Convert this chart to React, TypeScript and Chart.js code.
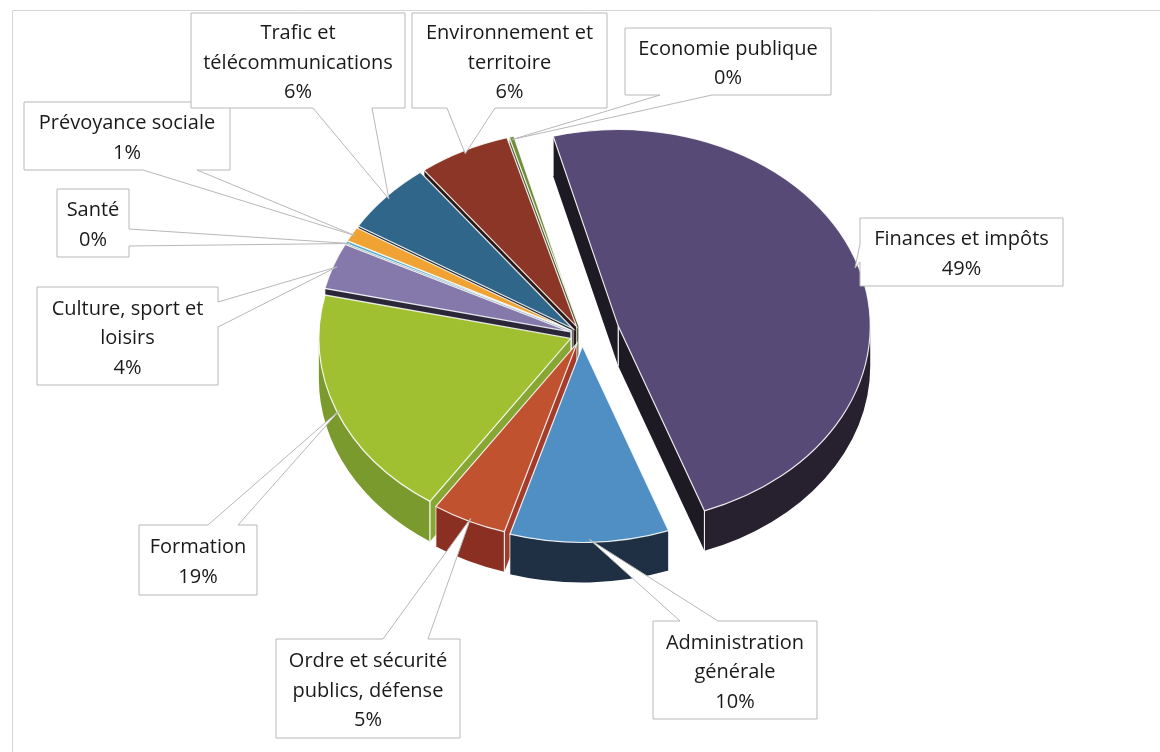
import React, { useEffect, useRef } from "react";
import { Chart, registerables } from "chart.js";

Chart.register(...registerables);

// ---------- data ----------
const categories: string[][] = [
  ["Administration", "générale"],
  ["Ordre et sécurité", "publics, défense"],
  ["Formation"],
  ["Culture, sport et", "loisirs"],
  ["Santé"],
  ["Prévoyance sociale"],
  ["Trafic et", "télécommunications"],
  ["Environnement et", "territoire"],
  ["Economie publique"],
  ["Finances et impôts"],
];
const values: number[] = [10.2, 4.8, 19.1, 3.8, 0.2, 1.2, 5.9, 5.9, 0.3, 48.6];

// ---------- styles ----------
const topColors = ["#4f8fc4", "#c1522f", "#a0c032", "#8579ab", "#4aa8c4", "#f0a233", "#2f6689", "#8b3627", "#6f8f3c", "#584a76"];
const sideColors = ["#1f2f44", "#8a2f22", "#7b9a2d", "#2b2739", "#2a5566", "#8a5a1a", "#1b2733", "#2b1a18", "#3a4a20", "#27212f"];
const radialColors = ["#2a3f5a", "#a33c2a", "#88a634", "#2b2739", "#2a5566", "#a06a20", "#1b2733", "#2b1a18", "#4a5a2a", "#1e1a24"];
const explode = [14, 12, 12, 12, 12, 12, 12, 12, 12, 38];

const TILT = 0.78;
const DEPTH = 40;
const LINE_H = 29.5;
const FONT = "20px 'Open Sans'";

type Box = { x: number; y: number; w: number; h: number; edge: "top" | "bottom" | "left" | "right"; b0: number; b1: number };
const boxes: Box[] = [
  { x: 653, y: 621, w: 164, h: 98, edge: "top", b0: 680, b1: 718 },
  { x: 276, y: 639, w: 184, h: 99, edge: "top", b0: 383, b1: 428 },
  { x: 139, y: 525, w: 118, h: 70, edge: "top", b0: 208, b1: 238 },
  { x: 37, y: 287, w: 181, h: 98, edge: "right", b0: 302, b1: 327 },
  { x: 57, y: 189, w: 72, h: 68, edge: "right", b0: 229, b1: 246 },
  { x: 24, y: 102, w: 206, h: 68, edge: "bottom", b0: 143, b1: 197 },
  { x: 191, y: 13, w: 214, h: 95, edge: "bottom", b0: 313, b1: 372 },
  { x: 412, y: 13, w: 195, h: 95, edge: "bottom", b0: 447, b1: 495 },
  { x: 625, y: 28, w: 206, h: 67, edge: "bottom", b0: 660, b1: 712 },
  { x: 860, y: 218, w: 203, h: 68, edge: "left", b0: 244, b1: 262 },
];

function geom(chart: any) {
  const meta = chart.getDatasetMeta(0);
  return meta.data.map((el: any, i: number) => {
    const a0 = el.startAngle, a1 = el.endAngle;
    const mid = (a0 + a1) / 2;
    const off = el.options.offset || 0;
    const ax = el.x + Math.cos(mid) * off;
    const ay = el.y + Math.sin(mid) * off * TILT;
    return { i, a0, a1, mid, ax, ay, r: el.outerRadius, color: el.options.backgroundColor };
  });
}

const pie3d = {
  id: "pie3d",
  beforeDraw(chart: any) {
    const ctx = chart.ctx;
    ctx.save();
    ctx.fillStyle = "#ffffff";
    ctx.fillRect(0, 0, chart.width, chart.height);
    ctx.strokeStyle = "#d6d6d6";
    ctx.lineWidth = 1;
    ctx.beginPath();
    ctx.moveTo(12.5, chart.height);
    ctx.lineTo(12.5, 10.5);
    ctx.lineTo(chart.width, 10.5);
    ctx.stroke();
    ctx.restore();
  },
  beforeDatasetsDraw(chart: any) {
    const ctx = chart.ctx;
    const items = geom(chart);
    const order = [...items].sort(
      (p: any, q: any) => p.ay + Math.sin(p.mid) * p.r * TILT * 0.5 - (q.ay + Math.sin(q.mid) * q.r * TILT * 0.5)
    );
    ctx.save();
    for (const s of order) {
      const { i, a0, a1, ax, ay, r } = s;
      const ry = r * TILT;
      const px = (a: number) => ax + Math.cos(a) * r;
      const py = (a: number) => ay + Math.sin(a) * ry;
      const verticals: number[][] = [];
      const radial = (a: number) => {
        ctx.beginPath();
        ctx.moveTo(ax, ay);
        ctx.lineTo(px(a), py(a));
        ctx.lineTo(px(a), py(a) + DEPTH);
        ctx.lineTo(ax, ay + DEPTH);
        ctx.closePath();
        ctx.fillStyle = radialColors[i];
        ctx.fill();
        verticals.push([px(a), py(a)]);
        verticals.push([ax, ay]);
      };
      if (Math.cos(a0) < 0) radial(a0);
      if (Math.cos(a1) > 0) radial(a1);
      for (let n = -1; n <= 2; n++) {
        const lo = Math.max(a0, 2 * Math.PI * n);
        const hi = Math.min(a1, 2 * Math.PI * n + Math.PI);
        if (hi > lo) {
          ctx.beginPath();
          ctx.ellipse(ax, ay, r, ry, 0, lo, hi, false);
          ctx.ellipse(ax, ay + DEPTH, r, ry, 0, hi, lo, true);
          ctx.closePath();
          ctx.fillStyle = sideColors[i];
          ctx.fill();
          if (lo === a0) verticals.push([px(a0), py(a0)]);
          if (hi === a1) verticals.push([px(a1), py(a1)]);
        }
      }
      ctx.strokeStyle = "rgba(255,255,255,0.75)";
      ctx.lineWidth = 1;
      for (const v of verticals) {
        ctx.beginPath();
        ctx.moveTo(v[0], v[1]);
        ctx.lineTo(v[0], v[1] + DEPTH);
        ctx.stroke();
      }
      ctx.beginPath();
      ctx.moveTo(ax, ay);
      ctx.ellipse(ax, ay, r, ry, 0, a0, a1, false);
      ctx.closePath();
      ctx.fillStyle = s.color;
      ctx.fill();
      ctx.strokeStyle = "rgba(255,255,255,0.85)";
      ctx.lineWidth = 1.2;
      ctx.stroke();
    }
    ctx.restore();
    return false;
  },
  afterDraw(chart: any) {
    const ctx = chart.ctx;
    const items = geom(chart);
    const data: number[] = chart.data.datasets[0].data;
    const total = data.reduce((a, b) => a + b, 0);
    ctx.save();
    items.forEach((s: any) => {
      const b = boxes[s.i];
      const tx = s.ax + Math.cos(s.mid) * s.r * 0.985;
      const ty = s.ay + Math.sin(s.mid) * s.r * TILT * 0.985;
      const { x, y, w, h } = b;
      ctx.beginPath();
      ctx.moveTo(x, y);
      if (b.edge === "top") { ctx.lineTo(b.b0, y); ctx.lineTo(tx, ty); ctx.lineTo(b.b1, y); }
      ctx.lineTo(x + w, y);
      if (b.edge === "right") { ctx.lineTo(x + w, b.b0); ctx.lineTo(tx, ty); ctx.lineTo(x + w, b.b1); }
      ctx.lineTo(x + w, y + h);
      if (b.edge === "bottom") { ctx.lineTo(b.b1, y + h); ctx.lineTo(tx, ty); ctx.lineTo(b.b0, y + h); }
      ctx.lineTo(x, y + h);
      if (b.edge === "left") { ctx.lineTo(x, b.b1); ctx.lineTo(tx, ty); ctx.lineTo(x, b.b0); }
      ctx.closePath();
      ctx.fillStyle = "#ffffff";
      ctx.fill();
      ctx.strokeStyle = "#b8b8b8";
      ctx.lineWidth = 1;
      ctx.stroke();

      const lbl = chart.data.labels[s.i];
      const lines: string[] = [...(Array.isArray(lbl) ? lbl : [lbl]), Math.round((data[s.i] / total) * 100) + "%"];
      ctx.fillStyle = "#1a1a1a";
      ctx.font = FONT;
      ctx.textAlign = "center";
      ctx.textBaseline = "middle";
      const cy = y + h / 2;
      lines.forEach((t, k) => {
        ctx.fillText(t, x + w / 2, cy + (k - (lines.length - 1) / 2) * LINE_H + 2.5);
      });
    });
    ctx.restore();
  },
};

export default function App() {
  const ref = useRef<HTMLCanvasElement>(null);
  useEffect(() => {
    const chart = new Chart(ref.current as HTMLCanvasElement, {
      type: "pie",
      data: {
        labels: categories,
        datasets: [
          {
            data: values,
            backgroundColor: topColors,
            offset: explode,
            borderWidth: 0,
            radius: 252,
          } as any,
        ],
      },
      options: {
        responsive: false,
        animation: false,
        events: [],
        rotation: 160,
        layout: { padding: { left: 4, right: 0, top: 0, bottom: 82 } },
        plugins: { legend: { display: false }, tooltip: { enabled: false } },
      },
      plugins: [pie3d as any],
    });
    return () => chart.destroy();
  }, []);
  return (
    <div style={{ position: "absolute", left: 0, top: 0, width: 1160, height: 752, background: "#fff" }}>
      <canvas ref={ref} width={1160} height={752} style={{ display: "block" }} />
    </div>
  );
}
